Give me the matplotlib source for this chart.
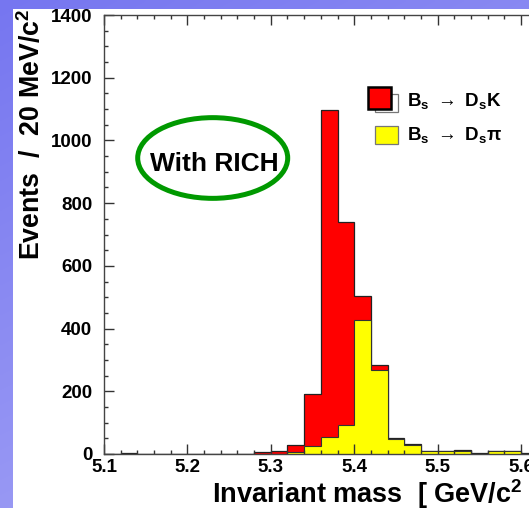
import numpy as np
import matplotlib
matplotlib.use("Agg")
import matplotlib.pyplot as plt
from matplotlib.patches import Ellipse, Rectangle
from matplotlib.ticker import MultipleLocator, FormatStrFormatter

# Invariant mass histogram, 20 MeV/c^2 bins from 5.10 to 5.70 GeV/c^2
bin_edges = np.round(np.arange(5.10, 5.70 + 1e-9, 0.02), 2)

# Bs -> Ds pi (yellow) per bin
dspi_counts = [0, 0, 0, 0, 0, 0, 0, 0, 0, 0,
               0, 5, 27, 55, 92, 427, 268, 47, 30, 9,
               8, 8, 0, 8, 8, 1, 1, 0, 1, 0]
# Bs -> Ds K (red, stacked on top) per bin
dsk_counts = [0, 2, 1, 1, 1, 1, 1, 1, 1, 5,
              9, 24, 163, 1042, 648, 76, 15, 5, 1, 2,
              1, 4, 2, 3, 1, 1, 1, 0, 1, 0]

x_ticks = [5.1, 5.2, 5.3, 5.4, 5.5, 5.6, 5.7]
y_ticks = [0, 200, 400, 600, 800, 1000, 1200, 1400]

legend_labels = [r"$B_s\ \rightarrow\ D_sK$", r"$B_s\ \rightarrow\ D_s\pi$"]
note_text = "With RICH"
x_label = r"Invariant mass  [ GeV/c$^2$"
y_label = r"Events  /  20 MeV/c$^2$"

plt.rcParams["font.family"] = ["Liberation Sans", "DejaVu Sans"]
plt.rcParams["mathtext.fontset"] = "custom"
plt.rcParams["mathtext.rm"] = "Liberation Sans:bold"
plt.rcParams["mathtext.it"] = "Liberation Sans:bold"
plt.rcParams["mathtext.bf"] = "Liberation Sans:bold"
plt.rcParams["mathtext.sf"] = "Liberation Sans:bold"

W, H = 529, 508
fig = plt.figure(figsize=(W / 100, H / 100), dpi=100)

# slide-like backdrop: blue gradient with a white panel
bg = fig.add_axes([0, 0, 1, 1], zorder=0)
bg.set_xlim(0, W)
bg.set_ylim(H, 0)
bg.axis("off")
yy, xx = np.mgrid[0:1:200j, 0:1:200j]
t = 0.65 * yy + 0.35 * xx
top = np.array([118, 118, 240]) / 255
bot = np.array([170, 170, 246]) / 255
grad = top[None, None, :] * (1 - t[..., None]) + bot[None, None, :] * t[..., None]
bg.imshow(grad, extent=[0, W, H, 0], aspect="auto", interpolation="bilinear")
bg.add_patch(Rectangle((13, 9), W - 13, H - 9, facecolor="white", edgecolor="none"))

# main histogram frame
ax = fig.add_axes([104 / W, 54 / H, 500.4 / W, 439 / H], zorder=1)
ax.patch.set_facecolor("white")
total = np.array(dspi_counts) + np.array(dsk_counts)
ax.stairs(total, bin_edges, fill=True, facecolor="#ff0000", edgecolor="none")
ax.stairs(total, bin_edges, fill=False, color="#222222", linewidth=0.9)
ax.stairs(dspi_counts, bin_edges, fill=True, facecolor="#ffff00", edgecolor="none")
ax.stairs(dspi_counts, bin_edges, fill=False, color="#333333", linewidth=0.8)

ax.set_xlim(5.1, 5.7)
ax.set_ylim(0, 1400)
ax.set_xticks(x_ticks)
ax.set_yticks(y_ticks)
ax.xaxis.set_minor_locator(MultipleLocator(0.02))
ax.yaxis.set_minor_locator(MultipleLocator(50))
ax.xaxis.set_major_formatter(FormatStrFormatter("%.1f"))
ax.tick_params(which="both", direction="in", top=True, right=True,
               color="#333333", width=1.0)
ax.tick_params(which="major", length=7)
ax.tick_params(which="minor", length=3.2)
ax.tick_params(axis="x", which="major", pad=3.5, labelsize=13.5)
ax.tick_params(axis="y", which="major", pad=8.5, labelsize=13.5)
for lab in ax.get_xticklabels() + ax.get_yticklabels():
    lab.set_fontweight("bold")
for sp in ax.spines.values():
    sp.set_color("#444444")
    sp.set_linewidth(1.0)

# annotations in pixel space
ov = fig.add_axes([0, 0, 1, 1], zorder=2)
ov.set_xlim(0, W)
ov.set_ylim(H, 0)
ov.axis("off")
ov.patch.set_alpha(0)

ov.add_patch(Ellipse((212.7, 158), 150, 80.7, facecolor="none",
                     edgecolor="#009900", linewidth=3.6))
ov.text(214, 164, note_text, ha="center", va="center", fontsize=19,
        fontweight="bold", color="black")

# legend entries
ov.add_patch(Rectangle((375, 94), 23, 18, facecolor="white",
                       edgecolor="#777777", linewidth=0.9))
ov.add_patch(Rectangle((368, 87), 23, 22, facecolor="#ff0000",
                       edgecolor="black", linewidth=1.8))
ov.add_patch(Rectangle((375, 126), 23, 18, facecolor="#ffff00",
                       edgecolor="#777777", linewidth=0.9))
ov.text(407, 101, legend_labels[0], ha="left", va="center", fontsize=13.5)
ov.text(407, 135, legend_labels[1], ha="left", va="center", fontsize=13.5)

# axis titles
ov.text(212, 503, x_label, ha="left", va="baseline", fontsize=19.5,
        fontweight="bold")
ov.text(40, 260, y_label, ha="left", va="baseline", rotation=90,
        rotation_mode="anchor", fontsize=19.3, fontweight="bold")

fig.savefig("out.png", dpi=100)
